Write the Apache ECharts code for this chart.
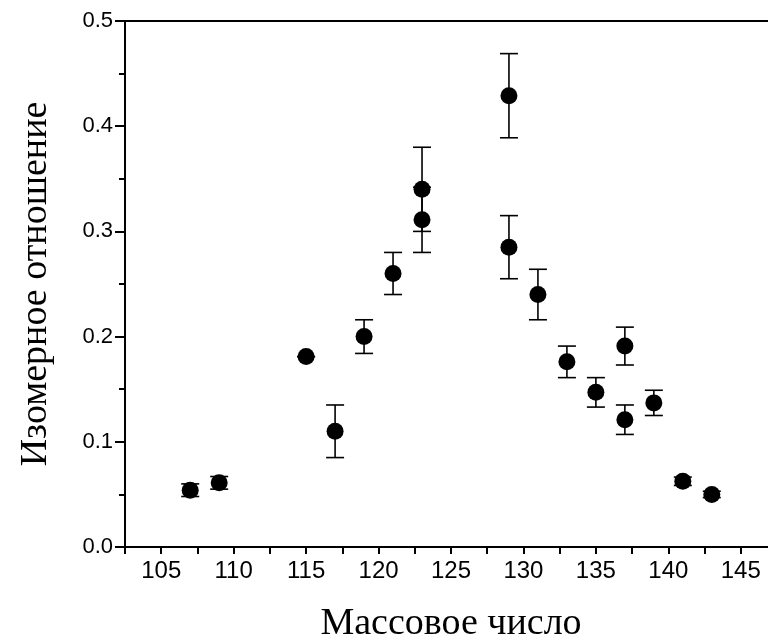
<!DOCTYPE html>
<html>
<head>
<meta charset="utf-8">
<script src="https://cdn.jsdelivr.net/npm/echarts@6/dist/echarts.min.js"></script>
<style>
  html, body { margin: 0; padding: 0; background: #fff; }
  #chart { width: 768px; height: 643px; }
</style>
</head>
<body>
<div id="chart"></div>
<script>
// mass number, isomer ratio, error (half-width)
var massNumbers = [107, 109, 115, 117, 119, 121, 123, 123, 129, 129, 131, 133, 135, 137, 137, 139, 141, 143];
var ratios =      [0.054, 0.061, 0.181, 0.110, 0.200, 0.260, 0.340, 0.311, 0.429, 0.285, 0.240, 0.176, 0.147, 0.191, 0.121, 0.137, 0.0625, 0.050];
var errors =      [0.006, 0.006, 0, 0.025, 0.016, 0.020, 0.040, 0.031, 0.040, 0.030, 0.024, 0.015, 0.014, 0.018, 0.014, 0.012, 0.004, 0.003];

var points = massNumbers.map(function (m, i) { return [m, ratios[i]]; });
var bars = massNumbers.map(function (m, i) { return [m, ratios[i] - errors[i], ratios[i] + errors[i]]; });

var dom = document.getElementById('chart');
var myChart = echarts.init(dom);

var axisFont = 'Liberation Sans, Arial, sans-serif';
var titleFont = 'Liberation Serif, Times New Roman, serif';

var option = {
  backgroundColor: '#fff',
  animation: false,
  grid: {
    left: 125, right: -9, top: 21, bottom: 96,
    containLabel: false,
    outerBoundsMode: 'none',
    show: true, borderColor: '#000', borderWidth: 2, backgroundColor: 'transparent'
  },
  xAxis: {
    type: 'value',
    min: 102.5, max: 147.5, interval: 2.5,
    name: 'Массовое число',
    nameLocation: 'middle',
    nameGap: 58,
    nameTextStyle: { fontFamily: titleFont, fontSize: 38, color: '#000' },
    axisLine: { lineStyle: { color: '#000', width: 2 } },
    axisTick: { length: 7, lineStyle: { color: '#000', width: 2 } },
    axisLabel: {
      margin: 12, color: '#000', fontFamily: axisFont, fontSize: 24,
      formatter: function (v) { return v % 5 === 0 ? String(v) : ''; }
    },
    splitLine: { show: false }
  },
  yAxis: {
    type: 'value',
    min: 0, max: 0.5, interval: 0.1,
    name: 'Изомерное отношение',
    nameLocation: 'middle',
    nameGap: 70,
    nameTextStyle: { fontFamily: titleFont, fontSize: 38, color: '#000' },
    axisLine: { show: true, lineStyle: { color: '#000', width: 2 } },
    axisTick: { show: true, length: 10, lineStyle: { color: '#000', width: 2 } },
    minorTick: { show: true, splitNumber: 2, length: 6, lineStyle: { color: '#000', width: 2 } },
    axisLabel: {
      margin: 12, color: '#000', fontFamily: axisFont, fontSize: 22,
      formatter: function (v) { return v.toFixed(1); }
    },
    splitLine: { show: false },
    minorSplitLine: { show: false }
  },
  series: [
    {
      type: 'custom',
      z: 1,
      data: bars,
      renderItem: function (params, api) {
        var lo = api.coord([api.value(0), api.value(1)]);
        var hi = api.coord([api.value(0), api.value(2)]);
        var w = 9;
        var st = { stroke: '#000', lineWidth: 1.6 };
        return {
          type: 'group',
          children: [
            { type: 'line', shape: { x1: lo[0], y1: lo[1], x2: hi[0], y2: hi[1] }, style: st },
            { type: 'line', shape: { x1: lo[0] - w, y1: lo[1], x2: lo[0] + w, y2: lo[1] }, style: st },
            { type: 'line', shape: { x1: hi[0] - w, y1: hi[1], x2: hi[0] + w, y2: hi[1] }, style: st }
          ]
        };
      }
    },
    {
      type: 'scatter',
      z: 2,
      data: points,
      symbol: 'circle',
      symbolSize: 17,
      itemStyle: { color: '#000', opacity: 1 }
    }
  ]
};

if (option && typeof option === 'object') {
  myChart.setOption(option, true);
}
</script>
</body>
</html>
